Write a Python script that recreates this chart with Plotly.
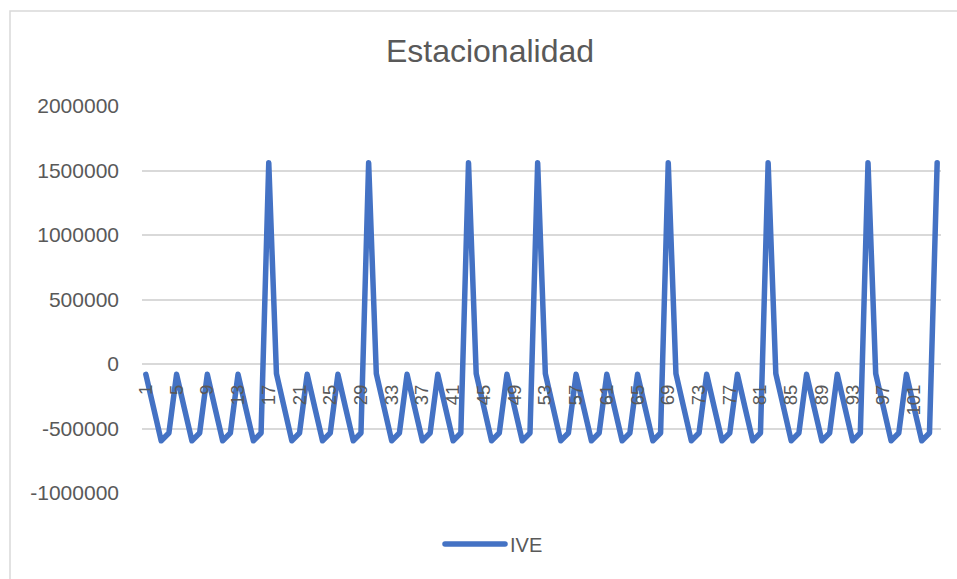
import plotly.graph_objects as go

# ---- data ----
periods = list(range(1, 105))
ive = [
    -80000, -340000, -595000, -535000,   # 1-4
    -80000, -340000, -595000, -535000,   # 5-8
    -80000, -340000, -595000, -535000,   # 9-12
    -80000, -340000, -595000, -535000,   # 13-16
    1560000,                             # 17
    -75000, -340000, -595000, -535000,   # 18-21
    -80000, -340000, -595000, -535000,   # 22-25
    -80000, -340000, -595000, -535000,   # 26-29
    1560000,                             # 30
    -75000, -340000, -595000, -535000,   # 31-34
    -80000, -340000, -595000, -535000,   # 35-38
    -80000, -340000, -595000, -535000,   # 39-42
    1560000,                             # 43
    -75000, -340000, -595000, -535000,   # 44-47
    -80000, -340000, -595000, -535000,   # 48-51
    1560000,                             # 52
    -75000, -340000, -595000, -535000,   # 53-56
    -80000, -340000, -595000, -535000,   # 57-60
    -80000, -340000, -595000, -535000,   # 61-64
    -80000, -340000, -595000, -535000,   # 65-68
    1560000,                             # 69
    -75000, -340000, -595000, -535000,   # 70-73
    -80000, -340000, -595000, -535000,   # 74-77
    -80000, -340000, -595000, -535000,   # 78-81
    1560000,                             # 82
    -75000, -340000, -595000, -535000,   # 83-86
    -80000, -340000, -595000, -535000,   # 87-90
    -80000, -340000, -595000, -535000,   # 91-94
    1560000,                             # 95
    -75000, -340000, -595000, -535000,   # 96-99
    -80000, -340000, -595000, -535000,   # 100-103
    1560000,                             # 104
]
x_tickvals = [1, 5, 9, 13, 17, 21, 25, 29, 33, 37, 41, 45, 49, 53, 57, 61, 65, 69, 73, 77, 81, 85, 89, 93, 97, 101]
y_tickvals = [-1000000, -500000, 0, 500000, 1000000, 1500000, 2000000]
y_ticktext = ["-1000000", "-500000", "0", "500000", "1000000", "1500000", "2000000"]

FONT = "Liberation Sans, Arial, sans-serif"
TXT = "#595959"
GRID = "#D9D9D9"

fig = go.Figure()
fig.add_trace(go.Scatter(
    x=periods, y=ive, mode="lines", name="IVE",
    line=dict(color="#4472C4", width=5.5),
))

W, H = 957, 579
L, R, T, B = 142, 16, 106, 86
pw, ph = W - L - R, H - T - B

def px_to_paper_x(px):
    return (px - L) / pw

def px_to_paper_y(py):
    return (H - B - py) / ph

fig.update_layout(
    width=W, height=H,
    margin=dict(l=L, r=R, t=T, b=B, pad=0),
    paper_bgcolor="white", plot_bgcolor="white",
    font=dict(family=FONT, color=TXT),
    title=dict(text="Estacionalidad", x=490 / W, xref="container", xanchor="center",
               y=1 - 51 / H, yref="container", yanchor="middle",
               font=dict(size=32, color=TXT, family=FONT)),
    showlegend=True,
    legend=dict(orientation="h", x=px_to_paper_x(494), xanchor="center",
                y=px_to_paper_y(544), yanchor="middle",
                font=dict(size=20, color=TXT, family=FONT),
                itemwidth=60, bgcolor="rgba(0,0,0,0)"),
    xaxis=dict(type="linear", range=[0.5, 104.5], showgrid=False, zeroline=False,
               showline=False, tickmode="array", tickvals=x_tickvals,
               tickangle=-90, tickfont=dict(size=18.5, color=TXT, family=FONT),
               anchor="free", position=1 / 3, ticks="", ticklabelstandoff=16),
    yaxis=dict(range=[-1000000, 2000000], tickmode="array", tickvals=y_tickvals,
               ticktext=y_ticktext, showgrid=True, gridcolor=GRID, gridwidth=1.5,
               zeroline=False, showline=False, ticks="",
               tickfont=dict(size=21, color=TXT, family=FONT), ticklabelstandoff=22),
    shapes=[dict(type="rect", xref="paper", yref="paper",
                 x0=px_to_paper_x(10), x1=px_to_paper_x(980),
                 y0=px_to_paper_y(600), y1=px_to_paper_y(11),
                 line=dict(color=GRID, width=1.5), fillcolor="rgba(0,0,0,0)", layer="below")],
)

round_joins = (
    "var s=document.createElement('style');"
    "s.textContent='.js-line, .legendlines path{stroke-linejoin:round;stroke-linecap:round;}';"
    "document.head.appendChild(s);"
)
fig.write_html("out.html", post_script=round_joins)
